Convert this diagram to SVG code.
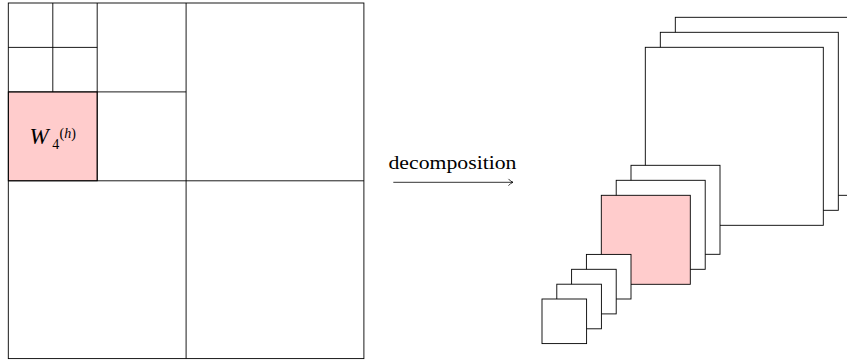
<svg xmlns="http://www.w3.org/2000/svg" width="847" height="363" viewBox="0 0 847 363">
<style>
.b{fill:#fff;stroke:#000;stroke-width:0.9}
.p{fill:#ffcccc;stroke:#000;stroke-width:0.9}
.g{fill:none;stroke:#000;stroke-width:0.9}
.t{font-family:"Liberation Serif","DejaVu Serif",serif;fill:#000}
</style>
<defs>
<marker id="arr" markerWidth="10" markerHeight="10" refX="6" refY="5" orient="auto" markerUnits="userSpaceOnUse">
<path d="M1.5,1.6 Q3.5,4.2 6,5 Q3.5,5.8 1.5,8.4" fill="none" stroke="#000" stroke-width="0.8"/>
</marker>
</defs>
<g id="grid">
<rect id="cell-w4h" class="p" x="8.3" y="91.9" width="88.9" height="88.9"/>
<rect class="g" x="8.3" y="3" width="355.6" height="355.6"/>
<line class="g" x1="186.1" y1="3" x2="186.1" y2="358.6"/>
<line class="g" x1="8.3" y1="180.8" x2="363.9" y2="180.8"/>
<line class="g" x1="97.2" y1="3" x2="97.2" y2="180.8"/>
<line class="g" x1="8.3" y1="91.9" x2="186.1" y2="91.9"/>
<line class="g" x1="52.8" y1="3" x2="52.8" y2="91.9"/>
<line class="g" x1="8.3" y1="47.4" x2="97.2" y2="47.4"/>
<text class="t" x="29.5" y="143.5" font-size="23"><tspan font-style="italic">W</tspan><tspan x="52.3" y="148.5" font-size="14">4</tspan><tspan x="59.5" y="137.5" font-size="14">(<tspan font-style="italic">h</tspan>)</tspan></text>
</g>
<g id="connectors">
<line x1="393.3" y1="182.3" x2="513" y2="182.3" stroke="#000" stroke-width="0.8" marker-end="url(#arr)"/>
<text class="t" x="452.5" y="169" font-size="19" text-anchor="middle" textLength="128" lengthAdjust="spacingAndGlyphs">decomposition</text>
</g>
<g id="large-stack">
<rect class="b" x="675.3" y="17.3" width="178" height="178"/>
<rect class="b" x="660.3" y="32.3" width="178" height="178"/>
<rect class="b" x="645.3" y="47.3" width="178" height="178"/>
</g>
<g id="medium-stack">
<rect class="b" x="631" y="165.3" width="89" height="89"/>
<rect class="b" x="616.2" y="180.3" width="89" height="89"/>
<rect class="p" x="601.3" y="195.3" width="89" height="89"/>
</g>
<g id="small-stack">
<rect class="b" x="586.4" y="254.4" width="44.6" height="44.6"/>
<rect class="b" x="571.6" y="269.3" width="44.6" height="44.6"/>
<rect class="b" x="556.8" y="284.2" width="44.6" height="44.6"/>
<rect class="b" x="542" y="299" width="44.6" height="44.6"/>
</g>
</svg>
